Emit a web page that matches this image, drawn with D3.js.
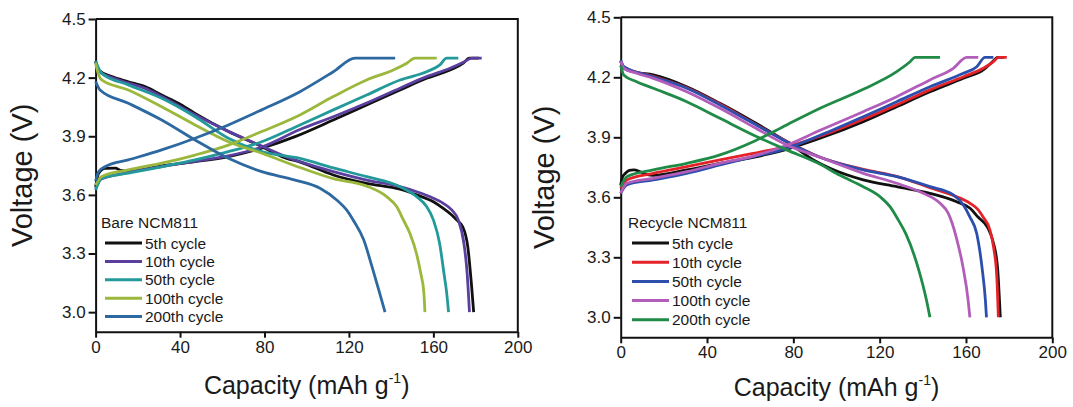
<!DOCTYPE html>
<html>
<head>
<meta charset="utf-8">
<script src="https://cdn.jsdelivr.net/npm/d3@7"></script>
<style>
  body { margin: 0; background: #fff; }
  svg { display: block; font-family: "Liberation Sans", Arial, Helvetica, sans-serif; }
  .tick text { font-size: 17px; fill: #1a1a1a; }
  .axisLabel { font-size: 25px; fill: #1a1a1a; }
  .yLabel { font-size: 29px; }
  .legendText { font-size: 15.5px; fill: #1a1a1a; }
</style>
</head>
<body>
<div id="chart"></div>
<script>
// labels and ticks
var cycleNames = ["5th cycle", "10th cycle", "50th cycle", "100th cycle", "200th cycle"];
var bareColors = ["#111111", "#5b3f9f", "#23999a", "#9bb83d", "#2d69a0"];
var recycleColors = ["#111111", "#e42228", "#2c4fae", "#b35dbb", "#1f8b47"];
var xTicks = [0, 40, 80, 120, 160, 200];
var yTicks = [3.0, 3.3, 3.6, 3.9, 4.2, 4.5];

// bare NCM811 - charge [capacity, voltage]
var bareCharge5 = [[0,3.64],[1.4,3.71],[4.5,3.736],[9.3,3.737],[12,3.725],[15.5,3.72],[31.3,3.748],[47.1,3.77],[62.9,3.796],[78.7,3.839],[94.5,3.898],[112.6,3.983],[128.4,4.06],[144.2,4.137],[156.8,4.197],[167.9,4.239],[174.2,4.274],[177,4.3],[181.5,4.3]];
var bareCharge10 = [[0,3.63],[2.5,3.68],[15.5,3.715],[31.3,3.745],[47.1,3.772],[62.9,3.8],[78.7,3.845],[96.8,3.935],[112.6,4.0],[128.4,4.07],[144.2,4.146],[156.8,4.205],[167.9,4.248],[174.5,4.28],[178.2,4.3],[182.9,4.3]];
var bareCharge50 = [[0,3.625],[2.9,3.685],[15.5,3.711],[31.3,3.744],[47.1,3.779],[62.9,3.821],[78.7,3.872],[96.8,3.958],[112.6,4.035],[128.4,4.111],[144.2,4.188],[156.8,4.23],[163.1,4.265],[166.3,4.3],[171.8,4.3]];
var bareCharge100 = [[0,3.65],[2.9,3.694],[15.5,3.728],[31.3,3.762],[47.1,3.804],[62.9,3.855],[78.7,3.924],[96.8,4.009],[112.6,4.103],[128.4,4.188],[141,4.239],[147.4,4.274],[151.3,4.3],[161.6,4.3]];
var bareCharge200 = [[0,3.67],[1.5,3.72],[4.5,3.744],[15.5,3.779],[31.3,3.83],[47.1,3.89],[62.9,3.958],[78.7,4.035],[96.8,4.128],[112.6,4.23],[122.9,4.3],[141.9,4.3]];

// bare NCM811 - discharge
var bareDischarge5 = [[0,4.285],[1.4,4.239],[7.7,4.205],[15.5,4.179],[23.4,4.154],[31.3,4.111],[39.2,4.069],[47.1,4.017],[62.9,3.924],[78.7,3.847],[88.2,3.796],[97.6,3.765],[112.6,3.702],[128.4,3.659],[144.2,3.629],[152.1,3.6],[160,3.565],[164.7,3.531],[168.7,3.497],[171,3.472],[173.9,3.437],[176.3,3.335],[178,3.148],[179.1,3.0]];
var bareDischarge10 = [[0,4.28],[1.4,4.235],[7.7,4.2],[15.5,4.172],[23.4,4.145],[31.3,4.103],[47.1,4.01],[62.9,3.925],[78.7,3.85],[88,3.805],[96.8,3.77],[112.6,3.719],[128.4,3.676],[144.2,3.642],[152.1,3.616],[160,3.583],[164.7,3.557],[168.7,3.523],[171.8,3.472],[174.5,3.35],[176,3.2],[177.1,3.0]];
var bareDischarge50 = [[0,4.285],[2.9,4.222],[15.5,4.163],[31.3,4.094],[47.1,4.0],[62.9,3.89],[78.7,3.821],[96.8,3.787],[112.6,3.738],[128.4,3.693],[144.2,3.642],[152.1,3.591],[156.8,3.54],[160,3.472],[163,3.35],[165,3.2],[166.3,3.1],[167.2,3.0]];
var bareDischarge100 = [[0,4.275],[1,4.23],[2.9,4.188],[15.5,4.137],[31.3,4.051],[47.1,3.958],[62.9,3.872],[78.7,3.813],[96.8,3.74],[112.6,3.683],[128.4,3.645],[137.9,3.591],[142.6,3.54],[145.8,3.472],[149,3.4],[152,3.3],[154,3.2],[155.5,3.1],[156,3.0]];
var bareDischarge200 = [[0,4.18],[2.1,4.137],[15.5,4.069],[31.3,3.983],[47.1,3.881],[62.9,3.787],[78.7,3.719],[94.5,3.676],[106.3,3.634],[114.2,3.574],[118.9,3.523],[122,3.472],[127,3.37],[131,3.23],[134.5,3.1],[137.1,3.0]];

// recycle NCM811 - charge
var recCharge5 = [[0,3.66],[0.8,3.7],[2.2,3.72],[4,3.735],[6,3.737],[9.1,3.728],[12,3.715],[15.1,3.71],[30.6,3.737],[46,3.77],[61.4,3.8],[76.9,3.84],[92.4,3.895],[112.4,3.978],[127.9,4.053],[143.3,4.128],[158.8,4.195],[168,4.237],[173.5,4.29],[174.5,4.3],[177.4,4.3]];
var recCharge10 = [[0,3.645],[2.8,3.687],[15.1,3.72],[30.6,3.753],[46,3.787],[61.4,3.82],[76.9,3.853],[92.4,3.905],[112.4,3.99],[127.9,4.062],[143.3,4.137],[158.8,4.203],[168,4.245],[172.7,4.278],[175,4.3],[178.9,4.3]];
var recCharge50 = [[0,3.62],[2.8,3.662],[15.1,3.687],[30.6,3.72],[46,3.762],[61.4,3.803],[76.9,3.845],[92.4,3.91],[112.4,4.003],[127.9,4.078],[143.3,4.153],[158.8,4.22],[165,4.253],[168.8,4.3],[172.7,4.3]];
var recCharge100 = [[0,3.62],[2.8,3.67],[15.1,3.695],[30.6,3.728],[46,3.77],[61.4,3.806],[76.9,3.86],[92.4,3.935],[112.4,4.028],[127.9,4.103],[143.3,4.187],[154.1,4.245],[160.3,4.3],[165.7,4.3]];
var recCharge200 = [[0,3.653],[2.8,3.703],[15.1,3.737],[30.6,3.77],[46,3.812],[61.4,3.878],[76.9,3.962],[92.4,4.045],[112.4,4.14],[127.9,4.228],[134.1,4.278],[136.4,4.3],[148,4.3]];

// recycle NCM811 - discharge
var recDischarge5 = [[0,4.28],[1.5,4.245],[7,4.225],[15.1,4.212],[30.6,4.153],[46,4.07],[61.4,3.978],[76.9,3.878],[89.3,3.787],[97,3.745],[112.4,3.687],[127.9,3.653],[143.3,3.62],[155.7,3.578],[161.9,3.545],[165.7,3.5],[170,3.45],[172.5,3.38],[174.6,3.252],[175.9,3.0]];
var recDischarge10 = [[0,4.28],[1.5,4.25],[15.1,4.205],[30.6,4.148],[46,4.066],[61.4,3.972],[76.9,3.88],[92.4,3.8],[112.4,3.74],[127.9,3.705],[143.3,3.648],[155.7,3.603],[161.9,3.57],[165.7,3.537],[168,3.5],[171,3.44],[172.8,3.35],[174.3,3.2],[175,3.0]];
var recDischarge50 = [[0,4.285],[1.5,4.253],[15.1,4.203],[30.6,4.145],[46,4.062],[61.4,3.97],[76.9,3.878],[92.4,3.8],[112.4,3.737],[127.9,3.703],[143.3,3.653],[154.1,3.612],[158.8,3.562],[161.9,3.5],[165,3.418],[167.4,3.252],[169,3.085],[169.5,3.0]];
var recDischarge100 = [[0,4.28],[1.5,4.245],[7.4,4.22],[15.1,4.195],[30.6,4.128],[46,4.045],[61.4,3.953],[76.9,3.862],[92.4,3.8],[112.4,3.72],[127.9,3.67],[140.2,3.62],[148,3.57],[151.8,3.52],[153.6,3.47],[155.5,3.4],[158.6,3.252],[161,3.085],[161.8,3.0]];
var recDischarge200 = [[0,4.26],[1.5,4.21],[7.4,4.178],[15.1,4.145],[30.6,4.078],[46,3.995],[61.4,3.912],[76.9,3.837],[92.4,3.765],[101.6,3.71],[112.4,3.653],[120.2,3.603],[124.8,3.553],[128.6,3.487],[132.1,3.418],[137.7,3.252],[141.7,3.085],[143.3,3.0]];

var width = 1073;
var height = 407;

var svg = d3.select("#chart")
    .append("svg")
    .attr("width", width)
    .attr("height", height);

svg.append("rect")
    .attr("width", width)
    .attr("height", height)
    .attr("fill", "#fff");

// one panel
function drawPanel(opt) {
    var xScale = d3.scaleLinear()
        .domain([0, 200])
        .range([opt.left, opt.right]);
    var yScale = d3.scaleLinear()
        .domain([2.9, 4.5])
        .range([opt.bottom, opt.top]);

    var g = svg.append("g");

    var xAxis = d3.axisBottom(xScale)
        .tickValues(xTicks)
        .tickSize(6)
        .tickSizeOuter(0)
        .tickPadding(3);
    var yAxis = d3.axisLeft(yScale)
        .tickValues(yTicks)
        .tickFormat(d3.format(".1f"))
        .tickSize(7)
        .tickSizeOuter(0)
        .tickPadding(3);

    var gx = g.append("g")
        .attr("transform", `translate(0, ${opt.bottom})`)
        .call(xAxis);
    var gy = g.append("g")
        .attr("transform", `translate(${opt.left}, 0)`)
        .call(yAxis);
    [gx, gy].forEach(function(a) {
        a.select(".domain").attr("stroke", "#111").attr("stroke-width", 2);
        a.selectAll(".tick line").attr("stroke", "#111").attr("stroke-width", 2);
        a.selectAll(".tick text").attr("font-family", null).attr("font-size", null);
    });

    // top and right frame
    g.append("path")
        .attr("d", `M${opt.left},${opt.top}H${opt.right}V${opt.bottom}`)
        .attr("fill", "none")
        .attr("stroke", "#111")
        .attr("stroke-width", 2);

    var line = d3.line()
        .x(function(d) { return xScale(d[0]); })
        .y(function(d) { return yScale(d[1]); })
        .curve(d3.curveMonotoneX);

    opt.charge.forEach(function(c, i) {
        g.append("path")
            .attr("d", line(c))
            .attr("fill", "none")
            .attr("stroke", opt.colors[i])
            .attr("stroke-width", 2.8)
            .attr("stroke-linejoin", "round");
        g.append("path")
            .attr("d", line(opt.discharge[i]))
            .attr("fill", "none")
            .attr("stroke", opt.colors[i])
            .attr("stroke-width", 2.8)
            .attr("stroke-linejoin", "round");
    });

    // legend
    g.append("text")
        .attr("class", "legendText")
        .attr("x", opt.legendX)
        .attr("y", opt.legendY)
        .text(opt.title);
    cycleNames.forEach(function(name, i) {
        var ly = opt.legendY + 15 + i * opt.legendStep;
        g.append("line")
            .attr("x1", opt.legendX + 4)
            .attr("x2", opt.legendX + 41)
            .attr("y1", ly)
            .attr("y2", ly)
            .attr("stroke", opt.colors[i])
            .attr("stroke-width", 3);
        g.append("text")
            .attr("class", "legendText")
            .attr("x", opt.legendX + 44)
            .attr("y", ly + 5.5)
            .text(name);
    });

    // axis labels
    var xl = g.append("text")
        .attr("class", "axisLabel")
        .attr("text-anchor", "middle")
        .attr("x", (opt.left + opt.right) / 2)
        .attr("y", opt.xLabelY);
    xl.append("tspan").text("Capacity (mAh g");
    xl.append("tspan").attr("font-size", 14).attr("dy", -11).text("-1");
    xl.append("tspan").attr("dy", 11).text(")");

    g.append("text")
        .attr("class", "axisLabel yLabel")
        .attr("text-anchor", "middle")
        .attr("transform", `translate(${opt.yLabelX}, ${(opt.top + opt.bottom) / 2})rotate(-90)`)
        .text("Voltage (V)");
}

drawPanel({
    left: 95.6, right: 517.8, top: 19, bottom: 331.7,
    colors: bareColors,
    charge: [bareCharge5, bareCharge10, bareCharge50, bareCharge100, bareCharge200],
    discharge: [bareDischarge5, bareDischarge10, bareDischarge50, bareDischarge100, bareDischarge200],
    title: "Bare NCM811",
    legendX: 101, legendY: 228, legendStep: 18.4,
    xLabelY: 394, yLabelX: 32
});

drawPanel({
    left: 620.7, right: 1052.3, top: 17.3, bottom: 337.3,
    colors: recycleColors,
    charge: [recCharge5, recCharge10, recCharge50, recCharge100, recCharge200],
    discharge: [recDischarge5, recDischarge10, recDischarge50, recDischarge100, recDischarge200],
    title: "Recycle NCM811",
    legendX: 628, legendY: 228, legendStep: 19.2,
    xLabelY: 396, yLabelX: 554
});
</script>
</body>
</html>
